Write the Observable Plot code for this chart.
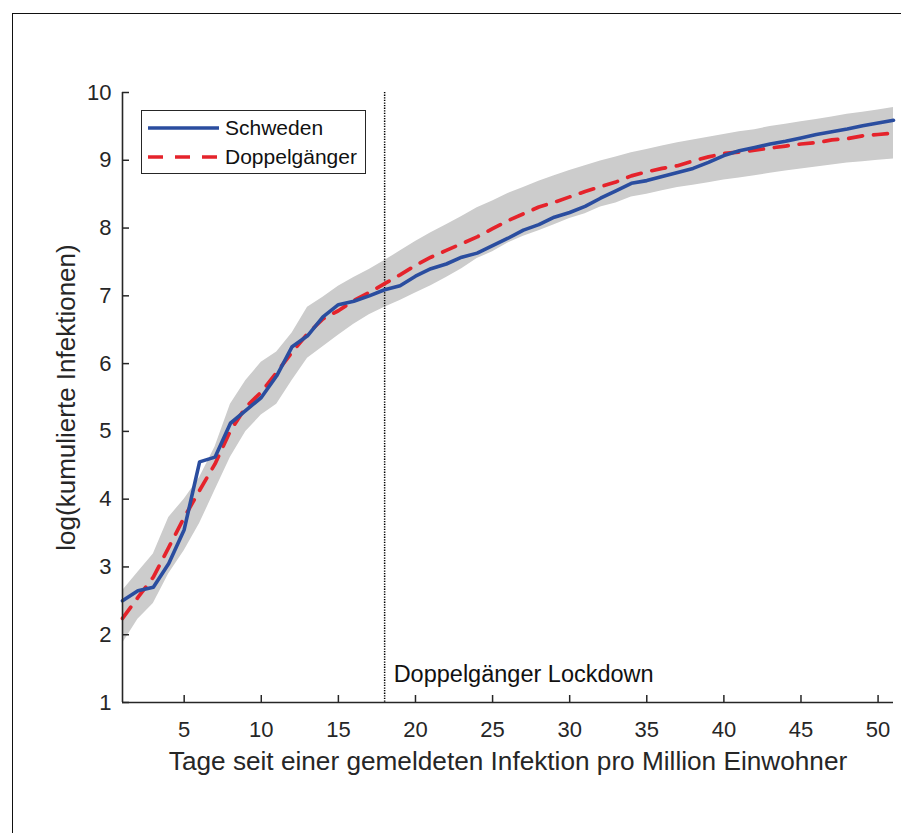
<!DOCTYPE html>
<html><head><meta charset="utf-8">
<script src="https://cdn.jsdelivr.net/npm/d3@7"></script>
<script src="https://cdn.jsdelivr.net/npm/@observablehq/plot@0.6"></script>
<style>
html,body{margin:0;padding:0;background:#fff;overflow:hidden;}
#wrap{position:relative;width:901px;height:833px;font-family:"Liberation Sans",Arial,Helvetica,sans-serif;}
#chart{position:absolute;left:0;top:0;}
#frame{position:absolute;left:12px;top:13px;width:960px;height:900px;border-top:1.5px solid #111;border-left:1.5px solid #111;pointer-events:none;}
#legend{position:absolute;left:141px;top:110px;width:223px;height:62px;border:1.5px solid #262626;background:#fff;}
</style></head>
<body><div id="wrap"><div id="chart"></div><div id="legend"></div><div id="frame"></div></div>
<script>
// ---- data ----
const days = d3.range(1, 52);
const schweden = [2.50, 2.65, 2.70, 3.05, 3.55, 4.55, 4.62, 5.12, 5.31, 5.50,
  5.82, 6.25, 6.41, 6.69, 6.87, 6.92, 7.00, 7.09, 7.15, 7.29,
  7.40, 7.47, 7.57, 7.63, 7.74, 7.85, 7.97, 8.05, 8.16, 8.23,
  8.32, 8.44, 8.55, 8.66, 8.70, 8.76, 8.82, 8.88, 8.97, 9.07,
  9.14, 9.19, 9.24, 9.28, 9.33, 9.38, 9.42, 9.46, 9.51, 9.55, 9.59];
const doppelganger = [2.24, 2.55, 2.85, 3.29, 3.73, 4.13, 4.52, 5.01, 5.36, 5.58,
  5.87, 6.17, 6.44, 6.66, 6.78, 6.93, 7.05, 7.18, 7.31, 7.45,
  7.57, 7.67, 7.77, 7.87, 7.99, 8.11, 8.21, 8.31, 8.38, 8.46,
  8.54, 8.61, 8.68, 8.77, 8.83, 8.88, 8.92, 8.99, 9.05, 9.10,
  9.12, 9.15, 9.18, 9.21, 9.24, 9.26, 9.30, 9.32, 9.36, 9.38, 9.40];
const bandLower = [1.87, 2.23, 2.46, 2.90, 3.24, 3.64, 4.13, 4.62, 5.00, 5.24,
  5.40, 5.75, 6.08, 6.25, 6.42, 6.58, 6.72, 6.83, 6.93, 7.04,
  7.15, 7.27, 7.40, 7.55, 7.65, 7.78, 7.88, 7.96, 8.05, 8.14,
  8.21, 8.31, 8.37, 8.46, 8.50, 8.55, 8.60, 8.63, 8.67, 8.71,
  8.74, 8.77, 8.81, 8.84, 8.87, 8.90, 8.93, 8.96, 8.98, 9.00, 9.02];
const bandUpper = [2.65, 2.92, 3.19, 3.73, 4.00, 4.32, 4.77, 5.40, 5.75, 6.02,
  6.17, 6.45, 6.83, 6.98, 7.14, 7.27, 7.39, 7.52, 7.66, 7.80,
  7.93, 8.05, 8.17, 8.30, 8.40, 8.51, 8.60, 8.69, 8.77, 8.85,
  8.92, 8.99, 9.05, 9.11, 9.16, 9.21, 9.26, 9.30, 9.34, 9.38,
  9.42, 9.45, 9.50, 9.53, 9.57, 9.60, 9.64, 9.68, 9.71, 9.74, 9.78];
const xTicks = [5, 10, 15, 20, 25, 30, 35, 40, 45, 50];
const yTicks = [1, 2, 3, 4, 5, 6, 7, 8, 9, 10];
const lockdownDay = 18;
const seriesNames = ["Schweden", "Doppelgänger"];
const seriesColors = ["#2a4d9f", "#e5232b"];
const xLabel = "Tage seit einer gemeldeten Infektion pro Million Einwohner";
const yLabel = "log(kumulierte Infektionen)";
const annotation = "Doppelgänger Lockdown";

const rows = days.map((d, i) => ({day: d, swe: schweden[i], dop: doppelganger[i], lo: bandLower[i], hi: bandUpper[i]}));

const W = 901, H = 833, mL = 122, mR = 8, mT = 92, mB = 131;
const innerW = W - mL - mR, innerH = H - mT - mB;
const axisColor = "#262626";
const font = "'Liberation Sans', Arial, Helvetica, sans-serif";

const chart = Plot.plot({
  width: W, height: H,
  marginLeft: mL, marginRight: mR, marginTop: mT, marginBottom: mB,
  style: {fontFamily: font, fontSize: "22px", color: axisColor, background: "transparent", overflow: "visible"},
  x: {domain: [1, 51]},
  y: {domain: [1, 10]},
  marks: [
    Plot.areaY(rows, {x: "day", y1: "lo", y2: "hi", fill: "#cccccc"}),
    Plot.ruleX([lockdownDay], {stroke: "#000", strokeWidth: 1.5, strokeDasharray: "1.3,1.3"}),
    Plot.line(rows, {x: "day", y: "dop", stroke: seriesColors[1], strokeWidth: 3.7, strokeDasharray: "14,11"}),
    Plot.line(rows, {x: "day", y: "swe", stroke: seriesColors[0], strokeWidth: 3.6}),
    Plot.ruleX([1], {stroke: axisColor, strokeWidth: 1.6}),
    Plot.ruleY([1], {stroke: axisColor, strokeWidth: 1.6}),
    Plot.tickY(yTicks, {y: d => d, insetRight: innerW - 7, stroke: axisColor, strokeWidth: 1.5}),
    Plot.tickX(xTicks, {x: d => d, insetTop: innerH - 7, stroke: axisColor, strokeWidth: 1.5}),
    Plot.axisY(yTicks, {tickSize: 0, tickPadding: 11, tickFormat: d => String(d), label: null, fontSize: 22, fill: axisColor}),
    Plot.axisX(xTicks, {tickSize: 0, tickPadding: 19, tickFormat: d => String(d), label: null, fontSize: 22, fill: axisColor}),
    Plot.text([yLabel], {frameAnchor: "left", textAnchor: "middle", lineAnchor: "middle", rotate: -90, dx: -56, fontSize: 26, fill: axisColor}),
    Plot.text([xLabel], {frameAnchor: "bottom", textAnchor: "middle", dy: 67, lineAnchor: "bottom", fontSize: 26.2, fill: axisColor}),
    Plot.text([annotation], {x: lockdownDay, y: 1, dx: 9, dy: -21, textAnchor: "start", lineAnchor: "bottom", fontSize: 23.5, fill: "#111"})
  ]
});
document.getElementById("chart").appendChild(chart);

// ---- legend (inside the plot, top left) ----
const lg = d3.select("#legend").append("svg").attr("width", 223).attr("height", 62)
  .style("display", "block");
const items = lg.selectAll("g").data(seriesNames).join("g")
  .attr("transform", (d, i) => `translate(0,${17 + i * 29})`);
items.append("line").attr("x1", 6).attr("x2", 77).attr("y1", 0).attr("y2", 0)
  .attr("stroke", (d, i) => seriesColors[i]).attr("stroke-width", 3.7)
  .attr("stroke-dasharray", (d, i) => i === 1 ? "15,12" : null);
items.append("text").attr("x", 83).attr("y", 0).attr("dy", "0.35em")
  .attr("font-family", font).attr("font-size", 21).attr("fill", "#111")
  .text(d => d);
</script>
</body></html>
